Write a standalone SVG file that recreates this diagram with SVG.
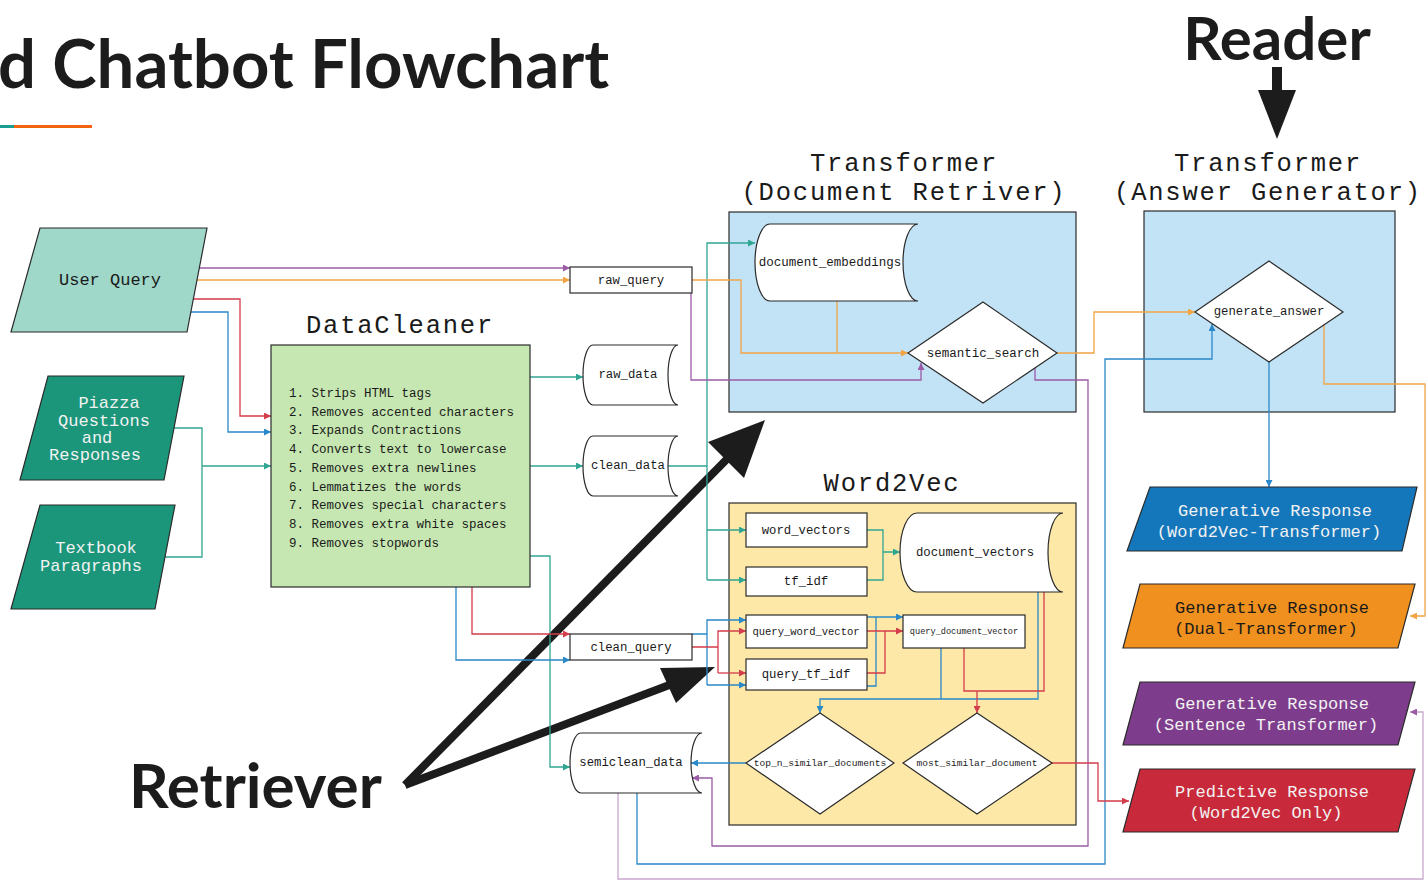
<svg xmlns="http://www.w3.org/2000/svg" width="1426" height="881" viewBox="0 0 1426 881">
<style>
.mono{font-family:"Liberation Mono","DejaVu Sans Mono",monospace;fill:#1a1a1a}
.hd{font-size:25.5px;letter-spacing:1.8px}
.big{font-family:Lato,"Liberation Sans",sans-serif;font-weight:bold;fill:#1c1c1c}
.box{stroke:#2b2b2b;stroke-width:1.2}
.wn{fill:#ffffff;stroke:#2b2b2b;stroke-width:1.2}
.c{fill:none;stroke-width:1.3}
.p{stroke:#9b5ba7}.o{stroke:#f2a444}.r{stroke:#d43d4b}.b{stroke:#2a88c8}.t{stroke:#30a592}.lp{stroke:#c9a6cd}
.wt{fill:#f2f2f2}
</style>
<defs>
<marker id="mp" viewBox="0 0 10 10" refX="10" refY="5" markerWidth="8" markerHeight="7" markerUnits="userSpaceOnUse" orient="auto"><path d="M0,0L10,5L0,10z" fill="#9b5ba7"/></marker>
<marker id="mo" viewBox="0 0 10 10" refX="10" refY="5" markerWidth="8" markerHeight="7" markerUnits="userSpaceOnUse" orient="auto"><path d="M0,0L10,5L0,10z" fill="#f2a444"/></marker>
<marker id="mr" viewBox="0 0 10 10" refX="10" refY="5" markerWidth="8" markerHeight="7" markerUnits="userSpaceOnUse" orient="auto"><path d="M0,0L10,5L0,10z" fill="#d43d4b"/></marker>
<marker id="mb" viewBox="0 0 10 10" refX="10" refY="5" markerWidth="8" markerHeight="7" markerUnits="userSpaceOnUse" orient="auto"><path d="M0,0L10,5L0,10z" fill="#2a88c8"/></marker>
<marker id="mt" viewBox="0 0 10 10" refX="10" refY="5" markerWidth="8" markerHeight="7" markerUnits="userSpaceOnUse" orient="auto"><path d="M0,0L10,5L0,10z" fill="#30a592"/></marker>
</defs>
<rect width="1426" height="881" fill="#ffffff"/>

<g id="title">
<text x="-2" y="88" class="big" font-size="67">d Chatbot Flowchart</text>
<rect x="0" y="125" width="14" height="3" fill="#1a9e8f"/>
<rect x="14" y="125" width="78" height="3" fill="#f26410"/>
</g>

<g id="reader">
<text x="1277" y="60" class="big" font-size="60" text-anchor="middle">Reader</text>
<rect x="1272" y="67" width="10" height="25" fill="#1c1c1c"/>
<polygon points="1258,90 1296,90 1277,139" fill="#1c1c1c"/>
</g>

<g id="retriever-label">
<text x="129" y="808" class="big" font-size="62">Retriever</text>
<line x1="405" y1="785" x2="730" y2="456" stroke="#1c1c1c" stroke-width="8"/>
<polygon points="765,420 744,478 708,442" fill="#1c1c1c"/>
<line x1="405" y1="785" x2="672" y2="684" stroke="#1c1c1c" stroke-width="8"/>
<polygon points="715,667 676,703 660,668" fill="#1c1c1c"/>
</g>

<!-- containers -->
<g id="doc-retriever">
<text x="904" y="171" class="mono hd" text-anchor="middle">Transformer</text>
<text x="904" y="200" class="mono hd" text-anchor="middle">(Document Retriver)</text>
<rect x="729" y="212" width="347" height="200" fill="#c2e2f5" class="box"/>
</g>
<g id="answer-generator">
<text x="1268" y="171" class="mono hd" text-anchor="middle">Transformer</text>
<text x="1268" y="200" class="mono hd" text-anchor="middle">(Answer Generator)</text>
<rect x="1144" y="211" width="251" height="201" fill="#c2e2f5" class="box"/>
</g>
<g id="word2vec">
<text x="892" y="491" class="mono hd" text-anchor="middle">Word2Vec</text>
<rect x="729" y="503" width="347" height="322" fill="#fde8a8" class="box"/>
</g>

<g id="connectors">
<!-- user query -->
<path class="c p" d="M198,268 H570" marker-end="url(#mp)"/>
<path class="c o" d="M193,280 H570" marker-end="url(#mo)"/>
<path class="c r" d="M190,299 H240 V416 H271" marker-end="url(#mr)"/>
<path class="c b" d="M187,312 H228 V432 H271" marker-end="url(#mb)"/>
<path class="c t" d="M172,428 H202 V557 H163 M202,466 H271" marker-end="url(#mt)"/>
<!-- datacleaner outputs -->
<path class="c t" d="M530,377 H583" marker-end="url(#mt)"/>
<path class="c t" d="M530,466 H583" marker-end="url(#mt)"/>
<path class="c t" d="M530,556 H550 V767 H570" marker-end="url(#mt)"/>
<path class="c r" d="M472,587 V634 H570" marker-end="url(#mr)"/>
<path class="c b" d="M456,587 V660 H570" marker-end="url(#mb)"/>
<!-- clean_data to embeddings/word2vec -->
<path class="c t" d="M668,466 H707 M707,580 V243 H755" marker-end="url(#mt)"/>
<path class="c t" d="M707,530 H746" marker-end="url(#mt)"/>
<path class="c t" d="M707,580 H746" marker-end="url(#mt)"/>
<!-- raw_query -->
<path class="c o" d="M692,280 H741 V353 H908" marker-end="url(#mo)"/>
<path class="c o" d="M837,301 V353"/>
<path class="c p" d="M691,293 V380 H921 V363" marker-end="url(#mp)"/>
<!-- semantic search outputs -->
<path class="c o" d="M1057,353 H1094 V312 H1195" marker-end="url(#mo)"/>
<path class="c p" d="M1035,368 V380 H1088 V846 H712 V778 H692" marker-end="url(#mp)"/>
<!-- generate answer -->
<path class="c b" d="M1269,362 V487" marker-end="url(#mb)"/>
<path class="c o" d="M1324,325 V384 H1425 V616 H1410" marker-end="url(#mo)"/>
<!-- semiclean -->
<path class="c b" d="M637,793 V864 H1105 V359 H1212 V324" marker-end="url(#mb)"/>
<path class="c lp" d="M618,793 V879 H1423 V712 H1410" marker-end="url(#mp)"/>
<!-- clean_query to query vectors -->
<path class="c b" d="M692,634 H707 M707,685 V620 H746" marker-end="url(#mb)"/>
<path class="c b" d="M707,685 H746" marker-end="url(#mb)"/>
<path class="c r" d="M692,647 H718 M718,673 V631 H746" marker-end="url(#mr)"/>
<path class="c r" d="M718,673 H746" marker-end="url(#mr)"/>
<!-- word vectors to document vectors -->
<path class="c t" d="M867,530 H883 V580 H867 M883,552 H900" marker-end="url(#mt)"/>
<!-- query vectors to query_document_vector -->
<path class="c b" d="M867,686 H876 V617 M867,617 H903" marker-end="url(#mb)"/>
<path class="c r" d="M867,673 H885 V631 M867,631 H903" marker-end="url(#mr)"/>
<!-- to diamonds -->
<path class="c b" d="M941,648 V699 M1038,592 V699 H820 V713" marker-end="url(#mb)"/>
<path class="c r" d="M964,648 V691 H1044 V592 M977,691 V713" marker-end="url(#mr)"/>
<path class="c b" d="M746,763 H691" marker-end="url(#mb)"/>
<path class="c r" d="M1052,763 H1098 V801 H1129" marker-end="url(#mr)"/>
</g>

<g id="user-query">
<polygon points="40,228 207,228 187,332 11,332" fill="#9fd7c9" class="box"/>
<text x="110" y="279" dy=".35em" class="mono" font-size="17" text-anchor="middle">User Query</text>
</g>
<g id="piazza">
<polygon points="48,376 184,376 164,480 20,480" fill="#1b967b" class="box"/>
<text class="mono wt" font-size="17" text-anchor="middle"><tspan x="109" y="408">Piazza</tspan><tspan x="104" y="426">Questions</tspan><tspan x="97" y="443">and</tspan><tspan x="95" y="460">Responses</tspan></text>
</g>
<g id="textbook">
<polygon points="40,505 175,505 155,609 11,609" fill="#1b967b" class="box"/>
<text class="mono wt" font-size="17" text-anchor="middle"><tspan x="96" y="553">Textbook</tspan><tspan x="91" y="571">Paragraphs</tspan></text>
</g>

<g id="datacleaner">
<text x="400" y="333" class="mono hd" text-anchor="middle">DataCleaner</text>
<rect x="271" y="345" width="259" height="242" fill="#c6e7b1" class="box"/>
<text class="mono" font-size="12.5">
<tspan x="289" y="397">1. Strips HTML tags</tspan>
<tspan x="289" y="415.7">2. Removes accented characters</tspan>
<tspan x="289" y="434.4">3. Expands Contractions</tspan>
<tspan x="289" y="453.1">4. Converts text to lowercase</tspan>
<tspan x="289" y="471.8">5. Removes extra newlines</tspan>
<tspan x="289" y="490.5">6. Lemmatizes the words</tspan>
<tspan x="289" y="509.2">7. Removes special characters</tspan>
<tspan x="289" y="527.9">8. Removes extra white spaces</tspan>
<tspan x="289" y="546.6">9. Removes stopwords</tspan>
</text>
</g>

<g id="raw_query">
<rect x="570" y="267" width="122" height="26" class="wn"/>
<text x="631" y="280" dy=".35em" class="mono" font-size="12.3" text-anchor="middle">raw_query</text>
</g>
<g id="raw_data">
<path d="M593,345 H678 A10,30 0 0 0 678,405 H593 A10,30 0 0 1 593,345 Z" class="wn"/>
<text x="628" y="374" dy=".35em" class="mono" font-size="12.3" text-anchor="middle">raw_data</text>
</g>
<g id="clean_data">
<path d="M593,436 H678 A10,30 0 0 0 678,496 H593 A10,30 0 0 1 593,436 Z" class="wn"/>
<text x="628" y="465" dy=".35em" class="mono" font-size="12.3" text-anchor="middle">clean_data</text>
</g>
<g id="clean_query">
<rect x="570" y="634" width="122" height="26" class="wn"/>
<text x="631" y="647" dy=".35em" class="mono" font-size="12.3" text-anchor="middle">clean_query</text>
</g>
<g id="semiclean_data">
<path d="M581,733 H702 A11,30 0 0 0 702,793 H581 A11,30 0 0 1 581,733 Z" class="wn"/>
<text x="631" y="762" dy=".35em" class="mono" font-size="12.3" text-anchor="middle">semiclean_data</text>
</g>

<g id="document_embeddings">
<path d="M770,224 H918 A15,38.5 0 0 0 918,301 H770 A15,38.5 0 0 1 770,224 Z" class="wn"/>
<text x="830" y="262" dy=".35em" class="mono" font-size="12.5" text-anchor="middle">document_embeddings</text>
</g>
<g id="semantic_search">
<polygon points="983,302 1057,353 983,403 908,353" class="wn"/>
<text x="983" y="353" dy=".35em" class="mono" font-size="12.5" text-anchor="middle">semantic_search</text>
</g>
<g id="generate_answer">
<polygon points="1269,261 1343,312 1269,362 1195,312" class="wn"/>
<text x="1269" y="311" dy=".35em" class="mono" font-size="12.3" text-anchor="middle">generate_answer</text>
</g>

<g id="word_vectors">
<rect x="746" y="513" width="121" height="34" class="wn"/>
<text x="806" y="530" dy=".35em" class="mono" font-size="12.3" text-anchor="middle">word_vectors</text>
</g>
<g id="tf_idf">
<rect x="746" y="567" width="121" height="29" class="wn"/>
<text x="806" y="581" dy=".35em" class="mono" font-size="12.3" text-anchor="middle">tf_idf</text>
</g>
<g id="document_vectors">
<path d="M917,513 H1063 A15,39.5 0 0 0 1063,592 H917 A17,39.5 0 0 1 917,513 Z" class="wn"/>
<text x="975" y="552" dy=".35em" class="mono" font-size="12.3" text-anchor="middle">document_vectors</text>
</g>
<g id="query_word_vector">
<rect x="746" y="615" width="121" height="33" class="wn"/>
<text x="806" y="631" dy=".35em" class="mono" font-size="10.5" text-anchor="middle">query_word_vector</text>
</g>
<g id="query_tf_idf">
<rect x="746" y="659" width="121" height="31" class="wn"/>
<text x="806" y="674" dy=".35em" class="mono" font-size="12.3" text-anchor="middle">query_tf_idf</text>
</g>
<g id="query_document_vector">
<rect x="903" y="615" width="122" height="33" class="wn"/>
<text x="964" y="631" dy=".35em" class="mono" font-size="8.6" text-anchor="middle">query_document_vector</text>
</g>
<g id="top_n_similar_documents">
<polygon points="820,713 894,763 820,814 746,763" class="wn"/>
<text x="820" y="763" dy=".35em" class="mono" font-size="9.6" text-anchor="middle">top_n_similar_documents</text>
</g>
<g id="most_similar_document">
<polygon points="977,713 1052,763 977,814 903,763" class="wn"/>
<text x="977" y="763" dy=".35em" class="mono" font-size="9.6" text-anchor="middle">most_similar_document</text>
</g>

<g id="resp-w2v-transformer">
<polygon points="1150,487 1417,487 1402,551 1127,551" fill="#1577bb" class="box"/>
<text class="mono wt" font-size="17" text-anchor="middle"><tspan x="1275" y="516">Generative Response</tspan><tspan x="1269" y="537">(Word2Vec-Transformer)</tspan></text>
</g>
<g id="resp-dual-transformer">
<polygon points="1140,584 1415,584 1398,648 1123,648" fill="#f0911f" class="box"/>
<text class="mono" font-size="17" text-anchor="middle"><tspan x="1272" y="613">Generative Response</tspan><tspan x="1266" y="634">(Dual-Transformer)</tspan></text>
</g>
<g id="resp-sentence-transformer">
<polygon points="1140,682 1415,682 1398,745 1123,745" fill="#7e3d8c" class="box"/>
<text class="mono wt" font-size="17" text-anchor="middle"><tspan x="1272" y="709">Generative Response</tspan><tspan x="1266" y="730">(Sentence Transformer)</tspan></text>
</g>
<g id="resp-predictive">
<polygon points="1140,769 1415,769 1398,832 1123,832" fill="#c92a3b" class="box"/>
<text class="mono wt" font-size="17" text-anchor="middle"><tspan x="1272" y="797">Predictive Response</tspan><tspan x="1266" y="818">(Word2Vec Only)</tspan></text>
</g>
</svg>
